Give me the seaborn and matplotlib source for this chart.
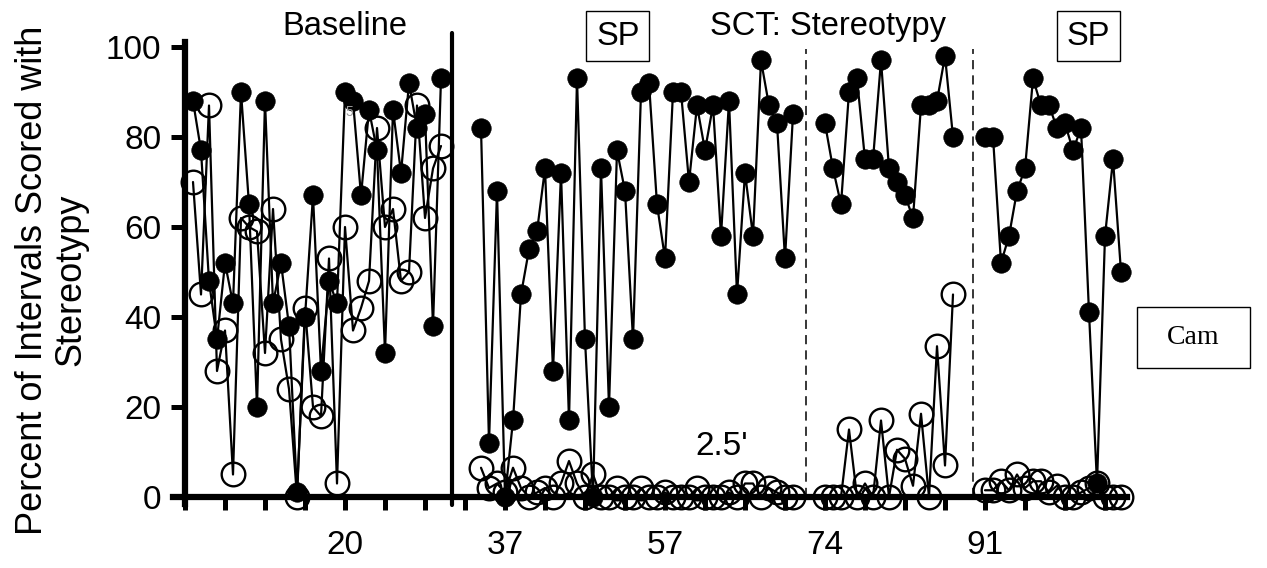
import numpy as np
import pandas as pd
import matplotlib
matplotlib.use("Agg")
import matplotlib.pyplot as plt
import seaborn as sns
from matplotlib.patches import Rectangle

# ---------------- data ----------------
baseline_start = 1
baseline_filled = [88, 77, 48, 35, 52, 43, 90, 65, 20, 88, 43, 52, 38, 1, 40, 67,
                   28, 48, 43, 90, 88, 67, 86, 77, 32, 86, 72, 92, 82, 85, 38, 93]
baseline_open = [70, 45, 87, 28, 37, 5, 62, 60, 59, 32, 64, 35, 24, 0, 42, 20,
                 18, 53, 3, 60, 37, 42, 48, 82, 60, 64, 48, 50, 87, 62, 73, 78]

sp1_start = 37
sp1_filled = [82, 12, 68, 0, 17, 45, 55, 59, 73, 28, 72, 17, 93, 35, 0, 73, 20, 77, 68, 35,
              90, 92, 65, 53, 90, 90, 70, 87, 77, 87, 58, 88, 45, 72, 58, 97, 87, 83, 53, 85]
sp1_open = [6.5, 2, 3, 1, 6.5, 2, 0, 1, 2, 0, 3, 8, 3, 0, 5, 0, 0, 2, 0, 0,
            2, 0, 0, 1, 0, 0, 0, 2, 0, 0, 0, 1, 0, 3, 3, 0, 2, 1, 0, 0]

sct_start = 80
sct_filled = [83, 73, 65, 90, 93, 75, 75, 97, 73, 70, 67, 62, 87, 87, 88, 98, 80]
sct_open = [0, 0, 0, 15, 0, 3, 0, 17, 0, 10.5, 8.5, 2.5, 18.5, 0, 33.5, 7, 45]

sp2_start = 100
sp2_filled = [80, 80, 52, 58, 68, 73, 93, 87, 87, 82, 83, 77, 82, 41, 3, 58, 75, 50]
sp2_open = [1.5, 1.5, 3.5, 1.5, 5, 2, 3.5, 3.5, 1, 2.5, 0, 0, 1, 2, 3, 0, 0, 0]

phase_names = ["Baseline", "SP1", "SCT", "SP2"]
y_ticks = [0, 20, 40, 60, 80, 100]
x_label_sessions = [20, 40, 60, 80, 100]
x_label_texts = ["20", "37", "57", "74", "91"]

# ---------------- build table ----------------
phases = [
    ("Baseline", baseline_start, baseline_filled, baseline_open),
    ("SP1", sp1_start, sp1_filled, sp1_open),
    ("SCT", sct_start, sct_filled, sct_open),
    ("SP2", sp2_start, sp2_filled, sp2_open),
]
rows = []
for name, start, filled, opened in phases:
    for i, (f, o) in enumerate(zip(filled, opened)):
        rows.append(dict(phase=name, session=start + i, series="filled", value=f))
        rows.append(dict(phase=name, session=start + i, series="open", value=o))
df = pd.DataFrame(rows)

# ---------------- style ----------------
sns.set_style("white")
plt.rcParams["font.family"] = ["Liberation Sans", "DejaVu Sans"]
plt.rcParams["text.color"] = "black"
plt.rcParams["xtick.color"] = "black"
plt.rcParams["ytick.color"] = "black"
plt.rcParams["axes.labelcolor"] = "black"

fig = plt.figure(figsize=(12.67, 5.68), dpi=100)
ax = fig.add_axes([0.13339, 0.08539, 0.76401, 0.84771])
ax.set_xlim(-2, 119)
ax.set_ylim(-5, 102)

open_kw = dict(marker="o", markersize=17, markerfacecolor="none",
               markeredgecolor="black", markeredgewidth=1.7, zorder=2)
filled_kw = dict(marker="o", markersize=14, markerfacecolor="black",
                 markeredgecolor="black", markeredgewidth=0.5, zorder=3)

for series, kw in [("open", open_kw), ("filled", filled_kw)]:
    for ph in phase_names:
        sub = df[(df["series"] == series) & (df["phase"] == ph)]
        sns.lineplot(data=sub, x="session", y="value", ax=ax, estimator=None,
                     sort=False, color="black", linewidth=1.6, legend=False,
                     clip_on=False, **kw)

# ---------------- axes ----------------
for side in ["top", "right"]:
    ax.spines[side].set_visible(False)
ax.spines["left"].set_position(("data", 0))
ax.spines["bottom"].set_position(("data", 0))
ax.spines["left"].set_bounds(-1.5, 101)
ax.spines["bottom"].set_bounds(-1.5, 117.8)
for side in ["left", "bottom"]:
    ax.spines[side].set_linewidth(4.5)
    ax.spines[side].set_color("black")
    ax.spines[side].set_zorder(2.5)

xt = list(range(0, 116, 5))
ax.set_xticks(xt)
ax.set_xticklabels([x_label_texts[x_label_sessions.index(t)] if t in x_label_sessions else ""
                    for t in xt])
ax.set_yticks(y_ticks)
ax.set_yticklabels([str(v) for v in y_ticks])
ax.tick_params(axis="x", direction="out", length=9, width=3.6, pad=15,
               labelsize=24, colors="black", bottom=True)
ax.tick_params(axis="y", direction="out", length=10, width=3.6, pad=7,
               labelsize=24, colors="black", left=True)
ax.set_xlabel("")
ax.set_ylabel("")

# phase change lines
ax.plot([33.4, 33.4], [-1.8, 103], color="black", lw=3, clip_on=False, zorder=4)
for xv in [77.6, 98.5]:
    ax.plot([xv, xv], [0, 99.5], color="black", lw=1.1, ls=(0, (6, 4)),
            clip_on=False, zorder=1)

# annotations
ax.text(20, 104.5, "Baseline", ha="center", va="center", fontsize=23.5, clip_on=False)
ax.text(80.4, 104.5, "SCT: Stereotypy", ha="center", va="center", fontsize=23.5, clip_on=False)
box = dict(boxstyle="square,pad=0.3", fc="white", ec="black", lw=1.0)
ax.text(54.1, 102.4, "SP", ha="center", va="center", fontsize=23.5, bbox=box, clip_on=False)
ax.text(112.9, 102.4, "SP", ha="center", va="center", fontsize=23.5, bbox=box, clip_on=False)
ax.text(67.1, 11.3, "2.5'", ha="center", va="center", fontsize=24, clip_on=False)
ax.text(20.6, 85.5, "5", ha="center", va="center", fontsize=10, color="#999999", clip_on=False)

# Cam box (figure coordinates)
W, H = 1267.0, 568.0
fig.patches.append(Rectangle((1137 / W, 1 - 368 / H), 113 / W, 61 / H,
                             transform=fig.transFigure, fill=False, ec="black", lw=1.0))
fig.text(1193.5 / W, 1 - 338 / H, "Cam", ha="center", va="center", fontsize=20,
         family=["Liberation Serif", "DejaVu Serif"])

# y label
fig.text(52 / W, 1 - 280 / H, "Percent of Intervals Scored with\nStereotypy",
         rotation=90, ha="center", va="center", fontsize=26, linespacing=1.12,
         multialignment="center")

fig.savefig("out.png", dpi=100)
